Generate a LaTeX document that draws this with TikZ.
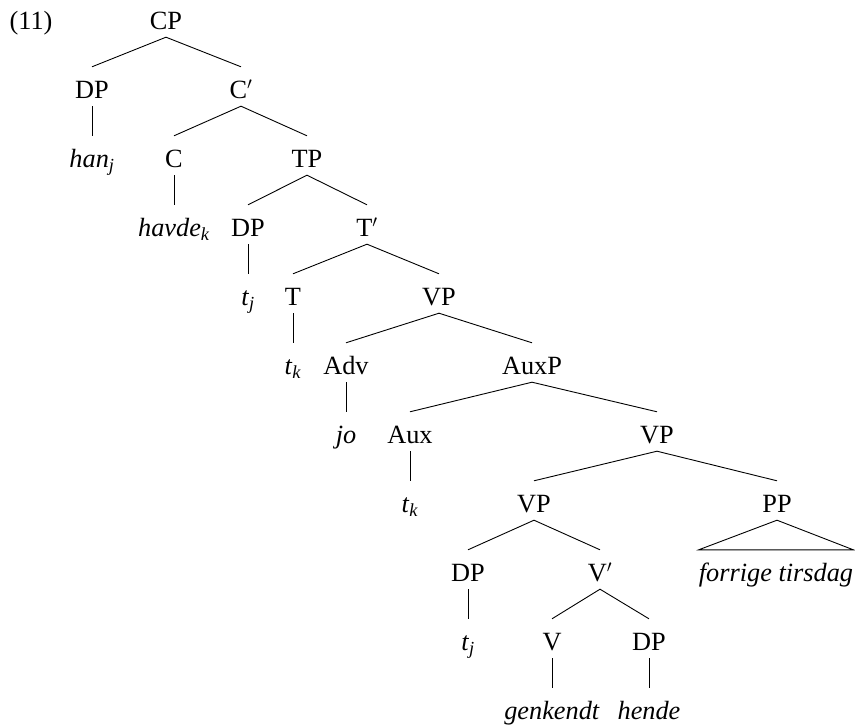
\documentclass[tikz,border=0pt]{standalone}
\usepackage{fontspec}
\setmainfont{Liberation Serif}
\newcommand\ix[1]{\textsubscript{\textit{#1}}}
\begin{document}
\begin{tikzpicture}[x=1pt,y=-1pt,
  lab/.style={anchor=base,inner sep=0pt,text height=31.5pt,text depth=7.5pt,font=\fontsize{26.3}{30}\selectfont},
  edge/.style={line width=0.9pt}]
\useasboundingbox (0,0) rectangle (855,725);
\node[lab] (ex) at (31,29.5) {(11)};
% level 0
\node[lab] (cp) at (166,29.5) {CP};
% level 1
\node[lab] (dp1) at (92,98.5) {DP};
\node[lab] (cbar) at (241,98.5) {C$'$};
% level 2
\node[lab] (han) at (92,167.5) {\textit{han}\ix{j}};
\node[lab] (c) at (174,167.5) {C};
\node[lab] (tp) at (307,167.5) {TP};
% level 3
\node[lab] (havde) at (174,236.5) {\textit{havde}\ix{k}};
\node[lab] (dp2) at (248,236.5) {DP};
\node[lab] (tbar) at (367,236.5) {T$'$};
% level 4
\node[lab] (tj1) at (248,305.5) {\textit{t}\ix{j}};
\node[lab] (t) at (293,305.5) {T};
\node[lab] (vp1) at (439,305.5) {VP};
% level 5
\node[lab] (tk1) at (293,374.5) {\textit{t}\ix{k}};
\node[lab] (adv) at (346,374.5) {Adv};
\node[lab] (auxp) at (532,374.5) {AuxP};
% level 6
\node[lab] (jo) at (346,443.5) {\textit{jo}};
\node[lab] (aux) at (410,443.5) {Aux};
\node[lab] (vp2) at (657,443.5) {VP};
% level 7
\node[lab] (tk2) at (410,512.5) {\textit{t}\ix{k}};
\node[lab] (vp3) at (534,512.5) {VP};
\node[lab] (pp) at (777,512.5) {PP};
% level 8
\node[lab] (dp3) at (468,581.5) {DP};
\node[lab] (vbar) at (600,581.5) {V$'$};
\node[lab] (ft) at (776,581.5) {\textit{forrige tirsdag}};
% level 9
\node[lab] (tj2) at (468,650.5) {\textit{t}\ix{j}};
\node[lab] (v) at (552,650.5) {V};
\node[lab] (dp4) at (649,650.5) {DP};
% level 10
\node[lab] (gen) at (552,719.5) {\textit{genkendt}};
\node[lab] (hende) at (649,719.5) {\textit{hende}};
% edges
\draw[edge] (dp1.north) -- (cp.south) -- (cbar.north);
\draw[edge] (dp1.south) -- (han.north);
\draw[edge] (c.north) -- (cbar.south) -- (tp.north);
\draw[edge] (c.south) -- (havde.north);
\draw[edge] (dp2.north) -- (tp.south) -- (tbar.north);
\draw[edge] (dp2.south) -- (tj1.north);
\draw[edge] (t.north) -- (tbar.south) -- (vp1.north);
\draw[edge] (t.south) -- (tk1.north);
\draw[edge] (adv.north) -- (vp1.south) -- (auxp.north);
\draw[edge] (adv.south) -- (jo.north);
\draw[edge] (aux.north) -- (auxp.south) -- (vp2.north);
\draw[edge] (aux.south) -- (tk2.north);
\draw[edge] (vp3.north) -- (vp2.south) -- (pp.north);
\draw[edge] (dp3.north) -- (vp3.south) -- (vbar.north);
\draw[edge] (dp3.south) -- (tj2.north);
\draw[edge] (v.north) -- (vbar.south) -- (dp4.north);
\draw[edge] (v.south) -- (gen.north);
\draw[edge] (dp4.south) -- (hende.north);
\draw[edge] (ft.north west) -- (pp.south) -- (ft.north east) -- cycle;
\end{tikzpicture}
\end{document}
